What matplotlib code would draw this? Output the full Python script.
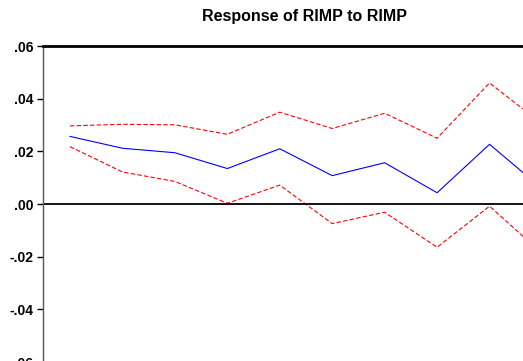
import numpy as np
import matplotlib.pyplot as plt

plt.rcParams['font.family'] = ['Liberation Sans', 'DejaVu Sans']

# Impulse response of RIMP to a RIMP shock, periods 1-10
periods = np.arange(1, 11)
response = [0.0257, 0.0212, 0.0195, 0.0135, 0.0210, 0.0108, 0.0157, 0.0043, 0.0227, 0.0059]
upper_band = [0.0297, 0.0303, 0.0301, 0.0265, 0.0349, 0.0287, 0.0345, 0.0250, 0.0460, 0.0305]
lower_band = [0.0218, 0.0122, 0.0086, 0.0003, 0.0072, -0.0074, -0.0031, -0.0164, -0.0008, -0.0187]

ytick_vals = [-0.06, -0.04, -0.02, 0.00, 0.02, 0.04, 0.06]
ytick_labels = ['-.06', '-.04', '-.02', '.00', '.02', '.04', '.06']

fig = plt.figure(figsize=(5.23, 3.61), dpi=100)
ax = fig.add_axes([43 / 523, -0.003, 526 / 523, 316 / 361])

ax.plot(periods, upper_band, color='red', lw=0.8, ls=(0, (4, 2)))
ax.plot(periods, lower_band, color='red', lw=0.8, ls=(0, (4, 2)))
ax.plot(periods, response, color='blue', lw=0.8)
ax.axhline(0, color='black', lw=1.3)

ax.set_xlim(0.485, 10.515)
ax.set_ylim(-0.06, 0.06)
ax.set_yticks(ytick_vals)
ax.set_yticklabels(ytick_labels, fontsize=10, fontweight='bold')
ax.set_xticks([])
ax.tick_params(axis='y', direction='out', length=4, width=1, pad=3)

ax.spines['top'].set_linewidth(2)
ax.spines['top'].set_color('black')
ax.spines['left'].set_color('#555555')
ax.spines['left'].set_linewidth(1)
ax.spines['right'].set_visible(False)
ax.spines['bottom'].set_visible(False)

fig.text(304 / 523, 1 - 17 / 361, 'Response of RIMP to RIMP', ha='center', va='center',
         fontsize=11.5, fontweight='bold')

fig.savefig('out.png', dpi=100)
